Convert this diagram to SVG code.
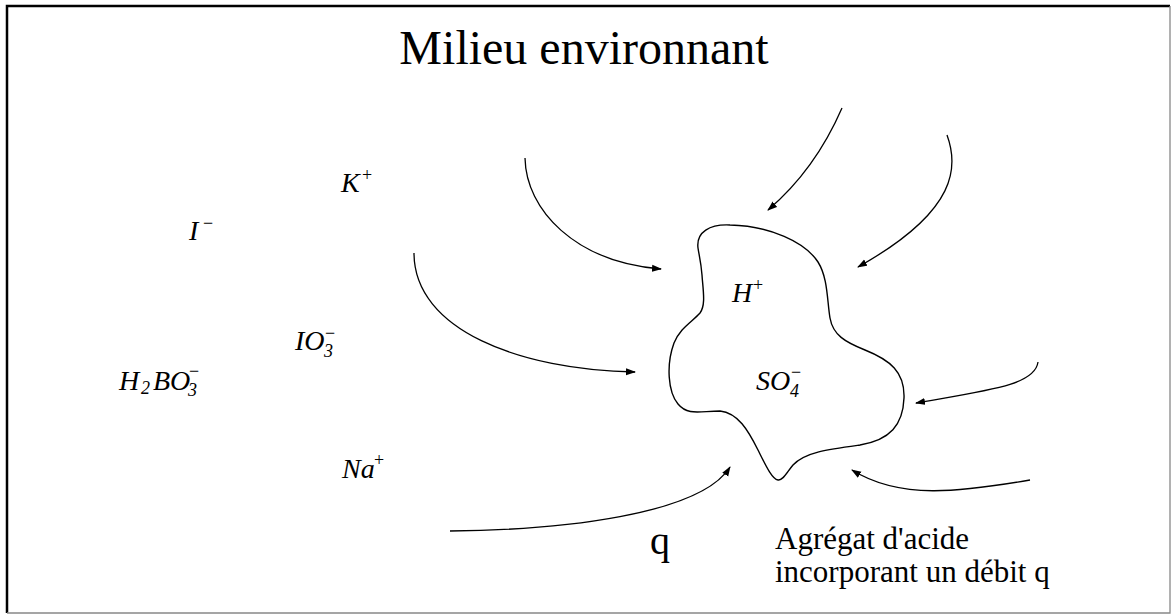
<svg xmlns="http://www.w3.org/2000/svg" width="1174" height="615" viewBox="0 0 1174 615">
<defs>
<marker id="ah" markerUnits="userSpaceOnUse" markerWidth="10" markerHeight="8" refX="9" refY="4" orient="auto">
<path d="M0,0.5 L10,4 L0,7.5 Z" fill="#000"/>
</marker>
<style>
.t{font-family:"Liberation Serif","Times New Roman",serif;fill:#000}
.i{font-family:"Liberation Serif","Times New Roman",serif;font-style:italic;fill:#000;font-size:28px}
.s{font-family:"Liberation Serif","Times New Roman",serif;font-style:italic;fill:#000;font-size:18px}
.u{font-family:"Liberation Serif","Times New Roman",serif;fill:#000;font-size:18px}
.c{fill:none;stroke:#000;stroke-width:1.3;marker-end:url(#ah)}
</style>
</defs>
<rect width="1174" height="615" fill="#fff"/>
<g id="frame" fill="none">
<path d="M7,613 L7,6 L1170,6" stroke="#000" stroke-width="2.5"/>
<path d="M7,613 L1170,613 L1170,6" stroke="#888" stroke-width="1.3"/>
</g>
<g id="title"><text class="t" x="584" y="64" font-size="48" text-anchor="middle">Milieu environnant</text></g>
<g id="ion-K"><text class="i" x="341" y="192">K</text><text class="u" x="362" y="181">+</text></g>
<g id="ion-I"><text class="i" x="189" y="240">I</text><text class="u" x="203" y="229">−</text></g>
<g id="ion-IO3"><text class="i" x="295" y="350">IO</text><text class="s" x="324" y="357">3</text><text class="u" x="325" y="339">−</text></g>
<g id="ion-H2BO3"><text class="i" x="119" y="390">H</text><text class="s" x="141" y="394" font-size="20">2</text><text class="i" x="153" y="390">BO</text><text class="s" x="188" y="396">3</text><text class="u" x="189" y="377">−</text></g>
<g id="ion-Na"><text class="i" x="342" y="478">Na</text><text class="u" x="374" y="466">+</text></g>
<g id="aggregate">
<path d="M698,248 C696,232 710,224 730,225 C770,226 805,242 818,262 C828,278 827,300 830,318 C833,335 845,342 865,350 C890,360 905,372 904,398 C903,425 890,440 860,445 C830,449 805,452 793,465 C787,472 783,481 778,480 C772,479 766,466 758,450 C748,430 738,413 720,411 C700,411 688,416 678,404 C668,392 666,365 674,343 C680,328 692,322 700,313 C706,305 703,290 702,275 C701,262 699,255 698,248 Z" fill="none" stroke="#000" stroke-width="1.4"/>
<text class="i" x="732" y="302">H</text><text class="u" x="753" y="291">+</text>
<text class="i" x="756" y="390">SO</text><text class="s" x="790" y="397">4</text><text class="u" x="791" y="378">−</text>
</g>
<g id="connectors">
<path class="c" d="M525,158 C526,210 575,262 661,269"/>
<path class="c" d="M842,108 Q815,170 768,210"/>
<path class="c" d="M947,135 C958,165 960,210 858,267"/>
<path class="c" d="M414,253 C414,330 520,370 635,372"/>
<path class="c" d="M1038,362 C1035,385 990,390 916,403"/>
<path class="c" d="M1030,480 C960,492 900,500 852,470"/>
<path class="c" d="M450,531 C560,530 700,515 730,467"/>
</g>
<g id="q-label"><text class="t" x="650" y="554" font-size="40">q</text></g>
<g id="caption"><text class="t" x="775" y="549" font-size="31">Agrégat d'acide</text><text class="t" x="775" y="582" font-size="31">incorporant un débit q</text></g>
</svg>
